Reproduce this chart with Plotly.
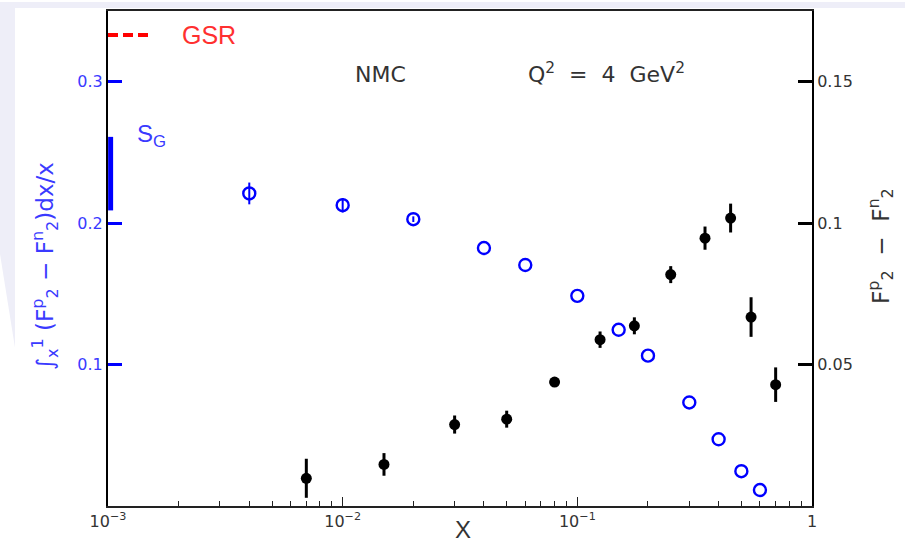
import plotly.graph_objects as go

# ---- data ----
x_int = [0.004, 0.01, 0.02, 0.04, 0.06, 0.1, 0.15, 0.2, 0.3, 0.4, 0.5, 0.6]
y_int = [0.221, 0.2127, 0.2028, 0.1824, 0.1704, 0.1486, 0.1246, 0.1063, 0.0732, 0.0472, 0.0246, 0.0113]
e_int = [0.0077, 0.0051, 0.002, 0.0, 0.0, 0.0, 0.0, 0.0, 0.0, 0.0, 0.0, 0.0]

x_diff = [0.007, 0.015, 0.03, 0.05, 0.08, 0.125, 0.175, 0.25, 0.35, 0.45, 0.55, 0.7]
y_diff = [0.0098, 0.0147, 0.0288, 0.0307, 0.0438, 0.0588, 0.0637, 0.0818, 0.0947, 0.1018, 0.0668, 0.0429]
e_diff = [0.0069, 0.004, 0.0032, 0.003, 0.0015, 0.0029, 0.003, 0.003, 0.0041, 0.0051, 0.007, 0.0061]

gsr_value = 0.333
sg_value = 0.235
sg_err = 0.026

x_ticks = [1e-3, 1e-2, 1e-1, 1]
x_ticktext = ["10<sup>\u22123</sup>", "10<sup>\u22122</sup>", "10<sup>\u22121</sup>", "1"]
yl_ticks = [0.1, 0.2, 0.3]
yl_ticktext = ["0.1", "0.2", "0.3"]
yr_ticks = [0.05, 0.1, 0.15]
yr_ticktext = ["0.05", "0.1", "0.15"]

# ---- layout geometry (pixels) ----
W, H = 905, 542
L, R, T, B = 108, 812, 9, 506
pw, ph = R - L, B - T

def px(xp):
    return (xp - L) / pw

def py(yp):
    return (B - yp) / ph

BLUE = "#0000ff"
BLUE_TXT = "#3a3aff"
GREY_TXT = "#333333"
FONT = "DejaVu Sans"
FONT2 = "Liberation Sans"

fig = go.Figure()

# integral (left axis) - open blue circles
fig.add_trace(go.Scatter(
    x=x_int, y=y_int, mode="markers",
    error_y=dict(type="data", array=e_int, color=BLUE, thickness=2, width=0),
    marker=dict(symbol="circle-open", size=12, color=BLUE, line=dict(width=2.4, color=BLUE)),
    showlegend=False, yaxis="y", cliponaxis=False))

# difference (right axis) - filled black
fig.add_trace(go.Scatter(
    x=x_diff, y=y_diff, mode="markers",
    error_y=dict(type="data", array=e_diff, color="black", thickness=3, width=0),
    marker=dict(symbol="circle", size=11, color="black"),
    showlegend=False, yaxis="y2", cliponaxis=False))

# GSR dashed red line
fig.add_trace(go.Scatter(
    x=[1e-3, 1.54e-3], y=[gsr_value, gsr_value], mode="lines",
    line=dict(color="#ff0000", width=4, dash="10px,5px"),
    showlegend=False, yaxis="y", hoverinfo="skip"))

# S_G vertical bar
fig.add_trace(go.Scatter(
    x=[1.026e-3, 1.026e-3], y=[sg_value - sg_err, sg_value + sg_err], mode="lines",
    line=dict(color=BLUE, width=5),
    showlegend=False, yaxis="y", hoverinfo="skip"))

LAV = "#eeeef8"
shapes = [
    dict(type="path", xref="paper", yref="paper",
         path=f"M {px(0)},{py(0)} L {px(W)},{py(0)} L {px(W)},{py(6)} L {px(15)},{py(6)} "
              f"L {px(15)},{py(347)} L {px(0)},{py(253)} Z",
         fillcolor=LAV, line=dict(width=0), layer="below"),
]

annotations = [
    dict(text="GSR", x=px(180), y=py(33), xref="paper", yref="paper", xanchor="left", yanchor="middle",
         showarrow=False, font=dict(family=FONT2, size=25, color="#ff3030")),
    dict(text="S<sub>G</sub>", x=px(135), y=py(134), xref="paper", yref="paper",
         xanchor="left", yanchor="middle",
         showarrow=False, font=dict(family=FONT2, size=24, color=BLUE_TXT)),
    dict(text="NMC", x=px(380), y=py(73), xref="paper", yref="paper", xanchor="center", yanchor="middle",
         showarrow=False, font=dict(family=FONT, size=22, color=GREY_TXT)),
    dict(text="Q<sup>2</sup>  =  4  GeV<sup>2</sup>", x=px(606), y=py(71), xref="paper", yref="paper",
         xanchor="center", yanchor="middle",
         showarrow=False, font=dict(family=FONT, size=22, color=GREY_TXT)),
    dict(text="X", x=px(463), y=py(530), xref="paper", yref="paper", xanchor="center", yanchor="middle",
         showarrow=False, font=dict(family=FONT2, size=24, color=GREY_TXT)),
    dict(text="\u222b<sub>x</sub><sup>1</sup> (F<sup>p</sup><sub>2</sub> \u2212 F<sup>n</sup><sub>2</sub>)dx/x",
         x=px(45), y=py(265), xref="paper", yref="paper", xanchor="center", yanchor="middle", textangle=-90,
         showarrow=False, font=dict(family=FONT, size=23, color=BLUE_TXT)),
    dict(text="F<sup>p</sup><sub>2</sub>  \u2212  F<sup>n</sup><sub>2</sub>",
         x=px(880), y=py(245), xref="paper", yref="paper", xanchor="center", yanchor="middle", textangle=-90,
         showarrow=False, font=dict(family=FONT, size=23, color=GREY_TXT)),
]

minor_vals = [m * 10.0 ** k for k in (-3, -2, -1) for m in range(2, 10)]

fig.update_layout(
    width=W, height=H,
    margin=dict(l=L, r=W - R, t=T, b=H - B, pad=0),
    paper_bgcolor="white", plot_bgcolor="white",
    font=dict(family=FONT, color=GREY_TXT),
    xaxis=dict(type="log", range=[-3, 0], showgrid=False, zeroline=False,
               showline=True, linecolor="#222222", linewidth=2, mirror=True,
               ticks="inside", ticklen=9, tickwidth=1, tickcolor="#222222",
               tickvals=x_ticks, ticktext=x_ticktext,
               tickfont=dict(family=FONT, size=16, color=GREY_TXT),
               minor=dict(tickvals=minor_vals, ticks="inside", ticklen=5, tickwidth=1,
                          tickcolor="#222222", showgrid=False)),
    yaxis=dict(range=[0, 0.35], showgrid=False, zeroline=False,
               showline=True, linecolor="black", linewidth=2,
               ticks="inside", ticklen=14, tickwidth=3, tickcolor=BLUE,
               tickvals=yl_ticks, ticktext=yl_ticktext,
               tickfont=dict(family=FONT, size=16, color=BLUE_TXT)),
    yaxis2=dict(range=[0, 0.175], overlaying="y", side="right", showgrid=False, zeroline=False,
                showline=True, linecolor="black", linewidth=2,
                ticks="inside", ticklen=14, tickwidth=3, tickcolor="black",
                tickvals=yr_ticks, ticktext=yr_ticktext,
                tickfont=dict(family=FONT, size=16, color=GREY_TXT)),
    shapes=shapes,
    annotations=annotations,
)

fig.write_html("out.html")
